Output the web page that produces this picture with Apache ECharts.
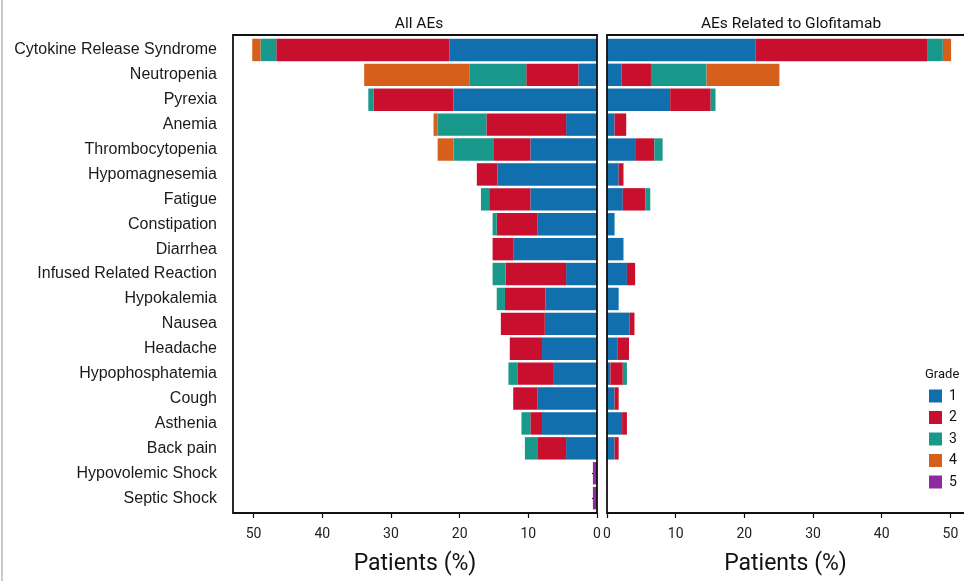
<!DOCTYPE html>
<html>
<head>
<meta charset="utf-8">
<script src="https://cdn.jsdelivr.net/npm/echarts@6/dist/echarts.min.js"></script>
<style>
  html, body { margin: 0; padding: 0; background: #fff; }
  #chart { width: 964px; height: 581px; }
</style>
</head>
<body>
<div id="chart"></div>
<script>
// Adverse events, share of patients (%) by grade
const categories = [
  'Cytokine Release Syndrome', 'Neutropenia', 'Pyrexia', 'Anemia', 'Thrombocytopenia',
  'Hypomagnesemia', 'Fatigue', 'Constipation', 'Diarrhea', 'Infused Related Reaction',
  'Hypokalemia', 'Nausea', 'Headache', 'Hypophosphatemia', 'Cough', 'Asthenia',
  'Back pain', 'Hypovolemic Shock', 'Septic Shock'
];
const grades = ['1', '2', '3', '4', '5'];
const tickValues = [0, 10, 20, 30, 40, 50];

// All AEs
const allGrade1 = [21.5, 2.7, 20.9, 4.5, 9.7, 14.5, 9.7, 8.7, 12.2, 4.5, 7.5, 7.6, 8.0, 6.4, 8.7, 8.0, 4.5, 0, 0];
const allGrade2 = [25.2, 7.6, 11.6, 11.6, 5.3, 3.0, 6.0, 5.9, 3.0, 8.8, 5.9, 6.4, 4.7, 5.2, 3.5, 1.7, 4.2, 0, 0];
const allGrade3 = [2.3, 8.3, 0.8, 7.1, 5.9, 0, 1.2, 0.6, 0, 1.9, 1.2, 0, 0, 1.3, 0, 1.3, 1.8, 0, 0];
const allGrade4 = [1.2, 15.3, 0, 0.6, 2.3, 0, 0, 0, 0, 0, 0, 0, 0, 0, 0, 0, 0, 0, 0];
const allGrade5 = [0, 0, 0, 0, 0, 0, 0, 0, 0, 0, 0, 0, 0, 0, 0, 0, 0, 0.6, 0.6];

// AEs related to glofitamab
const relGrade1 = [21.6, 2.1, 9.2, 1.1, 4.1, 1.7, 2.3, 1.1, 2.4, 2.9, 1.7, 3.3, 1.5, 0.5, 1.1, 2.2, 1.1, 0, 0];
const relGrade2 = [25.0, 4.3, 5.9, 1.7, 2.8, 0.7, 3.3, 0, 0, 1.2, 0, 0.7, 1.7, 1.8, 0.6, 0.7, 0.6, 0, 0];
const relGrade3 = [2.3, 8.1, 0.7, 0, 1.2, 0, 0.7, 0, 0, 0, 0, 0, 0, 0.6, 0, 0, 0, 0, 0];
const relGrade4 = [1.2, 10.6, 0, 0, 0, 0, 0, 0, 0, 0, 0, 0, 0, 0, 0, 0, 0, 0, 0];
const relGrade5 = [0, 0, 0, 0, 0, 0, 0, 0, 0, 0, 0, 0, 0, 0, 0, 0, 0, 0, 0];

const gradeColors = ['#116FAE', '#C8102E', '#18998B', '#D65F1C', '#8E2A9F'];
const axisFont = 'Roboto, sans-serif';

const allSets = [allGrade1, allGrade2, allGrade3, allGrade4, allGrade5];
const relSets = [relGrade1, relGrade2, relGrade3, relGrade4, relGrade5];

// panel geometry
const band = 24.9;
const frameTop = 35, frameBottom = 513;
const gridTop = frameTop + 0.1 * band;
const gridBottomPx = gridTop + categories.length * band;
const leftX0 = 233, leftX1 = 597;
const rightX0 = 607, rightX1 = 964;
const pxPerUnit = (leftX1 - leftX0) / 53;
const leftMax = 53;
const rightMax = (rightX1 - rightX0) / pxPerUnit;

function makeSeries(sets, axisIdx, stackName) {
  return sets.map((vals, i) => ({
    name: grades[i],
    type: 'bar',
    stack: stackName,
    xAxisIndex: axisIdx,
    yAxisIndex: axisIdx,
    barWidth: '90%',
    itemStyle: { color: gradeColors[i] },
    emphasis: { disabled: true },
    data: vals
  }));
}

function xAxisFor(gridIdx, inverse, max) {
  return {
    type: 'value',
    gridIndex: gridIdx,
    inverse: inverse,
    min: 0,
    max: max,
    offset: frameBottom - gridBottomPx,
    splitLine: { show: false },
    axisLine: { show: false },
    axisTick: { show: true, length: 5, customValues: tickValues, lineStyle: { color: '#111', width: 1.2 } },
    axisLabel: { customValues: tickValues, margin: 14, fontFamily: axisFont, fontSize: 14, color: '#222' },
    name: 'Patients (%)',
    nameLocation: 'middle',
    nameGap: 40,
    nameTextStyle: { fontFamily: axisFont, fontSize: 23, color: '#111' }
  };
}

const chart = echarts.init(document.getElementById('chart'), null, { renderer: 'canvas' });

const option = {
  animation: false,
  backgroundColor: '#fff',
  title: [
    { text: 'All AEs', left: 414, top: 11, textAlign: 'center',
      textStyle: { fontFamily: axisFont, fontSize: 15.5, fontWeight: 'normal', color: '#111' } },
    { text: 'AEs Related to Glofitamab', left: 786, top: 11, textAlign: 'center',
      textStyle: { fontFamily: axisFont, fontSize: 15.5, fontWeight: 'normal', color: '#111' } },
    { text: 'Grade', left: 920, top: 363,
      textStyle: { fontFamily: axisFont, fontSize: 13, fontWeight: 'normal', color: '#111' } }
  ],
  legend: {
    data: grades,
    orient: 'vertical',
    left: 924,
    top: 384,
    itemWidth: 13,
    itemHeight: 13,
    itemGap: 7.5,
    icon: 'rect',
    selectedMode: false,
    textStyle: { fontFamily: axisFont, fontSize: 14, lineHeight: 13, color: '#111', padding: [0, 0, 0, 2] }
  },
  grid: [
    { left: leftX0, top: gridTop, width: leftX1 - leftX0, height: gridBottomPx - gridTop },
    { left: rightX0, top: gridTop, width: rightX1 - rightX0, height: gridBottomPx - gridTop }
  ],
  xAxis: [xAxisFor(0, true, leftMax), xAxisFor(1, false, rightMax)],
  yAxis: [
    {
      type: 'category', gridIndex: 0, data: categories, inverse: true, position: 'left',
      axisLine: { show: false },
      axisTick: { show: true, alignWithLabel: true, length: 5, lineStyle: { color: '#111', width: 1.2 } },
      axisLabel: { margin: 16, fontFamily: '"Liberation Sans", Arial, sans-serif', fontSize: 16, color: '#1a1a1a' }
    },
    {
      type: 'category', gridIndex: 1, data: categories, inverse: true, position: 'left',
      axisLine: { show: false }, axisTick: { show: false }, axisLabel: { show: false }
    }
  ],
  series: [...makeSeries(allSets, 0, 'all'), ...makeSeries(relSets, 1, 'rel')],
  graphic: [
    { type: 'rect', z: 100, silent: true,
      shape: { x: leftX0, y: frameTop, width: leftX1 - leftX0, height: frameBottom - frameTop },
      style: { fill: null, stroke: '#111', lineWidth: 1.8 } },
    { type: 'rect', z: 100, silent: true,
      shape: { x: rightX0, y: frameTop, width: rightX1 - rightX0 + 10, height: frameBottom - frameTop },
      style: { fill: null, stroke: '#111', lineWidth: 1.8 } },
    { type: 'line', z: 100, silent: true,
      shape: { x1: 2, y1: 0, x2: 2, y2: 581 },
      style: { stroke: '#b8b8b8', lineWidth: 1.5 } }
  ]
};

chart.setOption(option);
</script>
</body>
</html>
